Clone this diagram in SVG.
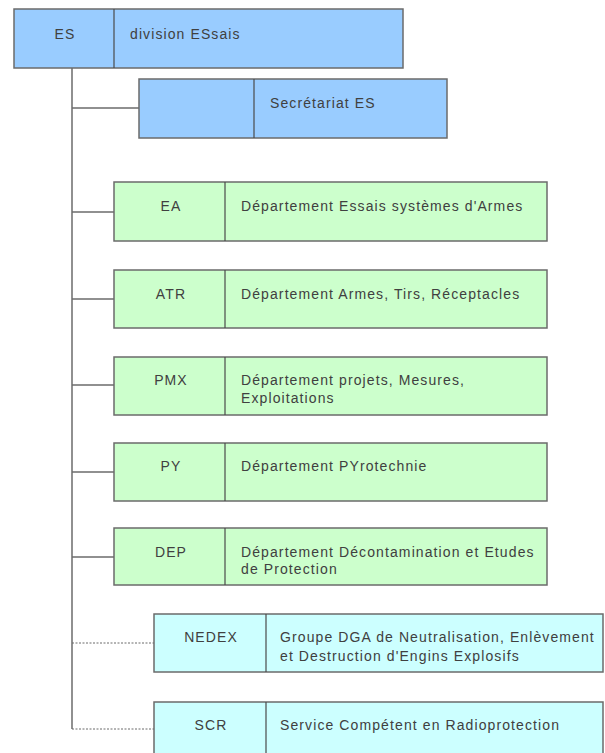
<svg xmlns="http://www.w3.org/2000/svg" width="605" height="753" viewBox="0 0 605 753">
<style>
.box{stroke:#6b6b6b;stroke-width:1.5}
.blue{fill:#99ccff}
.green{fill:#ccffcc}
.cyan{fill:#ccffff}
.div{stroke:#4a4a4a;stroke-width:1.2}
text{font-family:"Liberation Sans",Arial,sans-serif;font-size:14px;fill:#404040;letter-spacing:1.1px}
.c{text-anchor:middle}
.ln{stroke:#6b6b6b;stroke-width:1.5;fill:none}
.dot{stroke:#6b6b6b;stroke-width:1;fill:none;stroke-dasharray:2 1.5}
</style>
<rect width="605" height="753" fill="#ffffff"/>
<g id="connectors">
<path class="ln" d="M72 68 V729"/>
<path class="ln" d="M72 108 H139"/>
<path class="ln" d="M72 212 H114"/>
<path class="ln" d="M72 299 H114"/>
<path class="ln" d="M72 385 H114"/>
<path class="ln" d="M72 472 H114"/>
<path class="ln" d="M72 557 H114"/>
<path class="dot" d="M72 643 H154"/>
<path class="dot" d="M72 729 H154"/>
</g>
<g id="ES">
<rect class="box blue" x="14" y="9" width="389" height="59"/>
<line class="div" x1="114" y1="9" x2="114" y2="68"/>
<text class="c" x="65" y="39">ES</text>
<text x="130" y="39">division ESsais</text>
</g>
<g id="SEC">
<rect class="box blue" x="139" y="79" width="308" height="59"/>
<line class="div" x1="254" y1="79" x2="254" y2="138"/>
<text x="270" y="108">Secrétariat ES</text>
</g>
<g id="EA">
<rect class="box green" x="114" y="182" width="433" height="59"/>
<line class="div" x1="225" y1="182" x2="225" y2="241"/>
<text class="c" x="171" y="211">EA</text>
<text x="241" y="211">Département Essais systèmes d'Armes</text>
</g>
<g id="ATR">
<rect class="box green" x="114" y="270" width="433" height="58"/>
<line class="div" x1="225" y1="270" x2="225" y2="328"/>
<text class="c" x="171" y="299">ATR</text>
<text x="241" y="299">Département Armes, Tirs, Réceptacles</text>
</g>
<g id="PMX">
<rect class="box green" x="114" y="357" width="433" height="58"/>
<line class="div" x1="225" y1="357" x2="225" y2="415"/>
<text class="c" x="171" y="385">PMX</text>
<text x="241" y="385">Département projets, Mesures,</text>
<text x="241" y="403">Exploitations</text>
</g>
<g id="PY">
<rect class="box green" x="114" y="443" width="433" height="58"/>
<line class="div" x1="225" y1="443" x2="225" y2="501"/>
<text class="c" x="171" y="471">PY</text>
<text x="241" y="471">Département PYrotechnie</text>
</g>
<g id="DEP">
<rect class="box green" x="114" y="528" width="433" height="57"/>
<line class="div" x1="225" y1="528" x2="225" y2="585"/>
<text class="c" x="171" y="557">DEP</text>
<text x="241" y="557">Département Décontamination et Etudes</text>
<text x="241" y="574">de Protection</text>
</g>
<g id="NEDEX">
<rect class="box cyan" x="154" y="614" width="449" height="58"/>
<line class="div" x1="266" y1="614" x2="266" y2="672"/>
<text class="c" x="211" y="642">NEDEX</text>
<text x="280" y="642">Groupe DGA de Neutralisation, Enlèvement</text>
<text x="280" y="661">et Destruction d'Engins Explosifs</text>
</g>
<g id="SCR">
<rect class="box cyan" x="154" y="702" width="449" height="60"/>
<line class="div" x1="266" y1="702" x2="266" y2="753"/>
<text class="c" x="211" y="730">SCR</text>
<text x="280" y="730">Service Compétent en Radioprotection</text>
</g>
</svg>
